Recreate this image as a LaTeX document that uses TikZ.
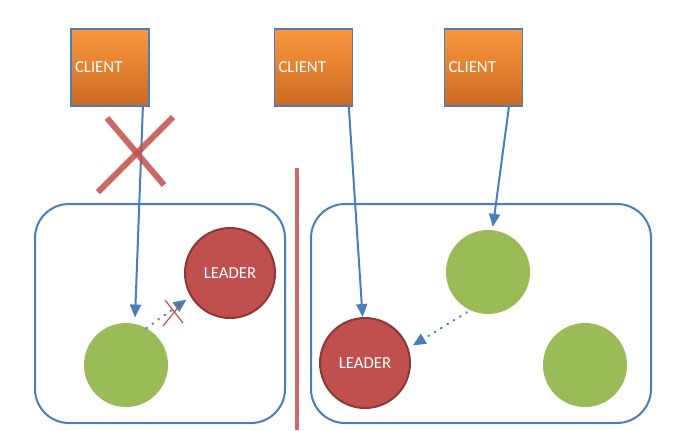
\documentclass[tikz,border=0pt]{standalone}
\usepackage{fontspec}
\setmainfont{Carlito}
\usetikzlibrary{arrows.meta}
\definecolor{linkblue}{RGB}{74,126,187}
\definecolor{clienttop}{RGB}{250,152,62}
\definecolor{clientbot}{RGB}{203,106,34}
\definecolor{membergreen}{RGB}{155,187,89}
\definecolor{leaderred}{RGB}{192,80,77}
\definecolor{leaderrim}{RGB}{140,56,54}
\tikzset{
  client/.style={draw=linkblue, line width=0.7pt, top color=clienttop, bottom color=clientbot,
    minimum height=38.5pt, text width=35pt, inner sep=2pt, align=left, text=white,
    font=\fontsize{8.4}{9}\selectfont},
  member/.style={circle, fill=membergreen, minimum size=42pt, inner sep=0pt},
  leader/.style={circle, fill=leaderred, draw=leaderrim, line width=1pt, minimum size=45pt,
    inner sep=0pt, text=white, font=\fontsize{8.4}{9}\selectfont},
  cluster/.style={draw=linkblue, line width=1pt, rounded corners=17pt, minimum height=109.5pt},
  request/.style={draw=linkblue, line width=1pt, -{Triangle[length=6.5pt,width=5.5pt]}},
  heartbeat/.style={request, dash pattern=on 0.1pt off 3.6pt, line cap=round, line width=1.3pt},
  cross/.style={draw=leaderred, line width=3pt, opacity=0.85},
}
\begin{document}
\begin{tikzpicture}[x=0.5pt,y=-0.5pt]
\useasboundingbox (0,0) rectangle (700,430);
% the two halves of the split cluster
\node[cluster, minimum width=125pt] (left) at (160,313.5) {};
\node[cluster, minimum width=170pt] (right) at (481,313.5) {};
% clients
\node[client] (c1) at (110,67.5) {CLIENT};
\node[client] (c2) at (313.5,67.5) {CLIENT};
\node[client] (c3) at (483.5,67.5) {CLIENT};
% servers
\node[member] (g1) at (126,365) {};
\node[leader] (l1) at (230,273) {LEADER};
\node[leader] (l2) at (365,363) {LEADER};
\node[member] (g2) at (488,272) {};
\node[member] (g3) at (585,365) {};
% requests
\draw[request, shorten >=3pt] (c1.-50) -- (g1.78);
\draw[request] (c2.-48) -- (l2.93);
\draw[request, shorten >=1.5pt] (c3.-57) -- (g2.84);
\draw[heartbeat, shorten >=2.5pt] (g1.61) -- (l1.211);
\draw[heartbeat, shorten <=2pt, shorten >=2.5pt] (g2.245) -- (l2.19);
% partition
\draw[cross] (107,118) -- (164,185);
\draw[cross] (173,117) -- (98,192);
\draw[cross, line width=2.3pt] (297,168) -- (297,430);
\draw[leaderred, line width=0.6pt] (165,300) -- (183,323);
\draw[leaderred, line width=0.6pt] (163,326) -- (180,305);
\end{tikzpicture}
\end{document}
